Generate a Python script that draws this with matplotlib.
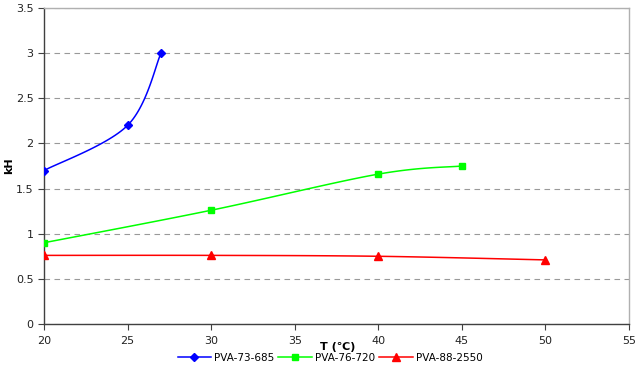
import numpy as np
import matplotlib.pyplot as plt

# Data
t_73 = [20, 25, 27]
kh_73 = [1.7, 2.2, 3.0]
t_76 = [20, 30, 40, 45]
kh_76 = [0.9, 1.26, 1.66, 1.75]
t_88 = [20, 30, 40, 50]
kh_88 = [0.76, 0.76, 0.75, 0.71]

xticks = [20, 25, 30, 35, 40, 45, 50, 55]
yticks = [0, 0.5, 1, 1.5, 2, 2.5, 3, 3.5]


def smooth(x, y, sx=585 / 35, sy=316 / 3.5, n=30):
    # Excel-style smoothed line: cubic Bezier through the points,
    # control points from neighbours (computed in screen-ish units)
    p = np.column_stack([np.asarray(x, float) * sx, np.asarray(y, float) * sy])
    pts = np.vstack([p[0], p, p[-1]])
    out = []
    t = np.linspace(0, 1, n)[:, None]
    for i in range(1, len(pts) - 2):
        p0, p3 = pts[i], pts[i + 1]
        c1 = p0 + (pts[i + 1] - pts[i - 1]) / 6
        c2 = p3 - (pts[i + 2] - pts[i]) / 6
        seg = ((1 - t) ** 3) * p0 + 3 * ((1 - t) ** 2) * t * c1 \
            + 3 * (1 - t) * t ** 2 * c2 + t ** 3 * p3
        out.append(seg if i == 1 else seg[1:])
    c = np.vstack(out)
    return c[:, 0] / sx, c[:, 1] / sy


fig = plt.figure(figsize=(6.36, 3.74), dpi=100)
ax = fig.add_axes([44 / 636, 1 - 324 / 374, 585 / 636, 316 / 374])

series = [
    (t_73, kh_73, '#0000ff', 'D', 4.5, 'PVA-73-685'),
    (t_76, kh_76, '#00ff00', 's', 5, 'PVA-76-720'),
    (t_88, kh_88, '#ff0000', '^', 6, 'PVA-88-2550'),
]
for x, y, col, mk, ms, lab in series:
    sx_, sy_ = smooth(x, y)
    ax.plot(sx_, sy_, color=col, lw=1.1, zorder=3)
    ax.plot(x, y, ls='none', marker=mk, ms=ms, color=col, zorder=4)
    ax.plot([], [], color=col, marker=mk, ms=ms, lw=1.1, label=lab)

ax.set_xlim(20, 55)
ax.set_ylim(0, 3.5)
ax.set_xticks(xticks)
ax.set_yticks(yticks)
ax.set_xticklabels([str(v) for v in xticks])
ax.set_yticklabels(['0', '0.5', '1', '1.5', '2', '2.5', '3', '3.5'])
ax.tick_params(direction='out', length=4, width=0.8, color='#404040',
               labelsize=8, labelcolor='#222222')
ax.tick_params(axis='x', pad=5)
ax.grid(axis='y', ls=(0, (5, 4)), color='#999999', lw=0.8)
ax.set_axisbelow(True)
for s in ['left', 'bottom']:
    ax.spines[s].set_color('#404040')
    ax.spines[s].set_linewidth(1.0)
for s in ['top', 'right']:
    ax.spines[s].set_color('#b0b0b0')
    ax.spines[s].set_linewidth(1.0)

fig.text(338 / 636, 1 - 347 / 374, 'T (℃)', fontsize=8, fontweight='bold',
         ha='center', va='center')
fig.text(9 / 636, 1 - 166 / 374, 'kH', fontsize=8, fontweight='bold',
         ha='center', va='center', rotation=90)

fig.legend(loc='center', bbox_to_anchor=(330 / 636, 1 - 358 / 374), ncol=3,
           frameon=False, fontsize=7.5, handlelength=3.2, columnspacing=0.4,
           handletextpad=0.3)

fig.savefig('out.png', dpi=100)
